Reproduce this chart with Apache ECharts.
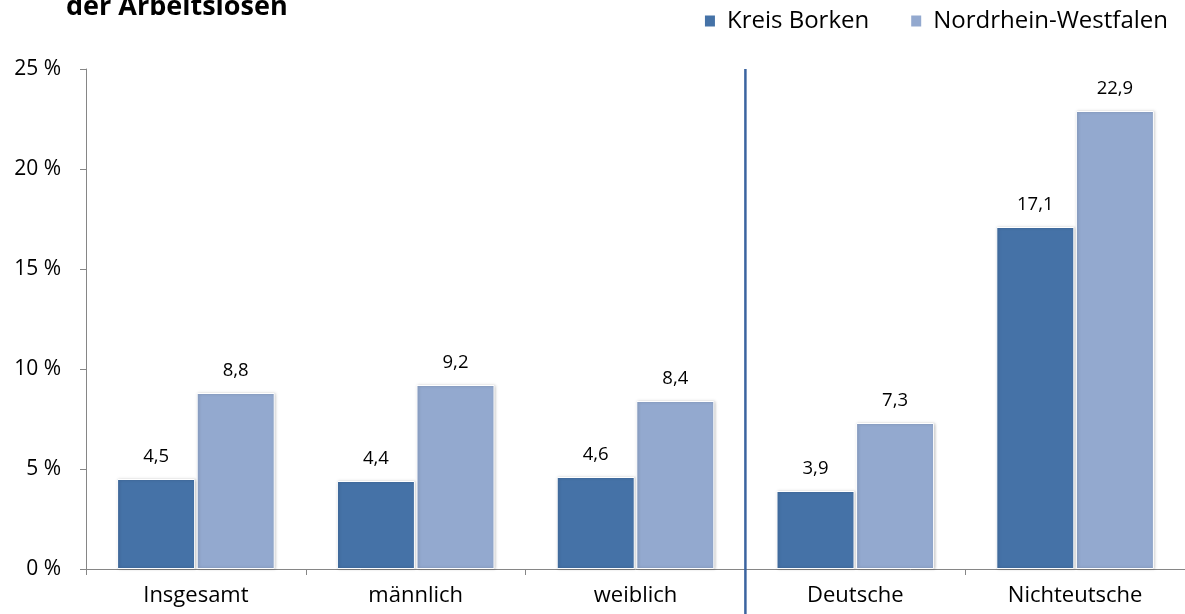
<!DOCTYPE html>
<html><head><meta charset="utf-8">
<script src="https://cdn.jsdelivr.net/npm/echarts@6/dist/echarts.min.js"></script>
<style>html,body{margin:0;padding:0;background:#fff}#c{width:1185px;height:614px}</style>
</head><body><div id="c"></div>
<script>
const categories = ['Insgesamt', 'männlich', 'weiblich', 'Deutsche', 'Nichteutsche'];
const kreisBorken = [4.5, 4.4, 4.6, 3.9, 17.1];
const nrw = [8.8, 9.2, 8.4, 7.3, 22.9];
const yTicks = [0, 5, 10, 15, 20, 25];
const dividerAfter = 3; // boundary between "weiblich" and "Deutsche"

const FONT = '"Open Sans", sans-serif';
const chart = echarts.init(document.getElementById('c'));
const fmt = v => String(v).replace('.', ',');
const barStyle = c => ({color: c, borderColor: '#fff', borderWidth: 1, shadowColor: 'rgba(0,0,0,0.25)', shadowBlur: 3, shadowOffsetX: 1, shadowOffsetY: 0});
chart.setOption({
  animation: false,
  textStyle: {fontFamily: FONT},
  title: {text: 'der Arbeitslosen', left: 61, top: -11, textStyle: {fontFamily: FONT, fontSize: 27, fontWeight: 'bold', color: '#000'}},
  legend: {right: 12, top: 4, itemWidth: 12, itemHeight: 13, itemGap: 40, icon: 'rect',
    textStyle: {fontSize: 24, color: '#000', fontFamily: FONT, padding: [0, 0, 0, 6]}, data: ['Kreis Borken', 'Nordrhein-Westfalen']},
  grid: {left: 86, right: 0, top: 69, bottom: 45},
  xAxis: [{type: 'category', data: categories,
    axisLine: {lineStyle: {color: '#868686'}},
    axisTick: {show: true, length: 6, lineStyle: {color: '#868686'}},
    axisLabel: {fontSize: 22, color: '#000', margin: 16, fontFamily: FONT}},
    {type: 'value', min: 0, max: categories.length, show: false}],
  yAxis: {type: 'value', min: yTicks[0], max: yTicks[yTicks.length - 1], interval: 5,
    axisLine: {show: true, lineStyle: {color: '#868686'}},
    axisTick: {show: true, length: 6, lineStyle: {color: '#868686'}},
    splitLine: {show: false},
    axisLabel: {formatter: '{value} %', fontSize: 21, color: '#000', margin: 25, fontFamily: FONT}},
  series: [
    {name: 'Kreis Borken', type: 'bar', data: kreisBorken, barWidth: '35.5%', barGap: '2%',
      itemStyle: barStyle('#4572A7'),
      label: {show: true, position: 'top', distance: 13, fontSize: 18.5, color: '#000', formatter: p => fmt(p.value)}},
    {name: 'Nordrhein-Westfalen', type: 'bar', data: nrw, barWidth: '35.5%', barGap: '2%',
      itemStyle: barStyle('#93A9CF'),
      label: {show: true, position: 'top', distance: 13, fontSize: 18.5, color: '#000', formatter: p => fmt(p.value)}}
  ]
});
const x = chart.convertToPixel({xAxisIndex: 1}, dividerAfter);
const yTop = chart.convertToPixel({yAxisIndex: 0}, 25);
chart.setOption({graphic: [{type: 'line', shape: {x1: x, y1: yTop, x2: x, y2: 614}, style: {stroke: '#3B64A0', lineWidth: 2.5}, z: 100}]});
</script></body></html>
